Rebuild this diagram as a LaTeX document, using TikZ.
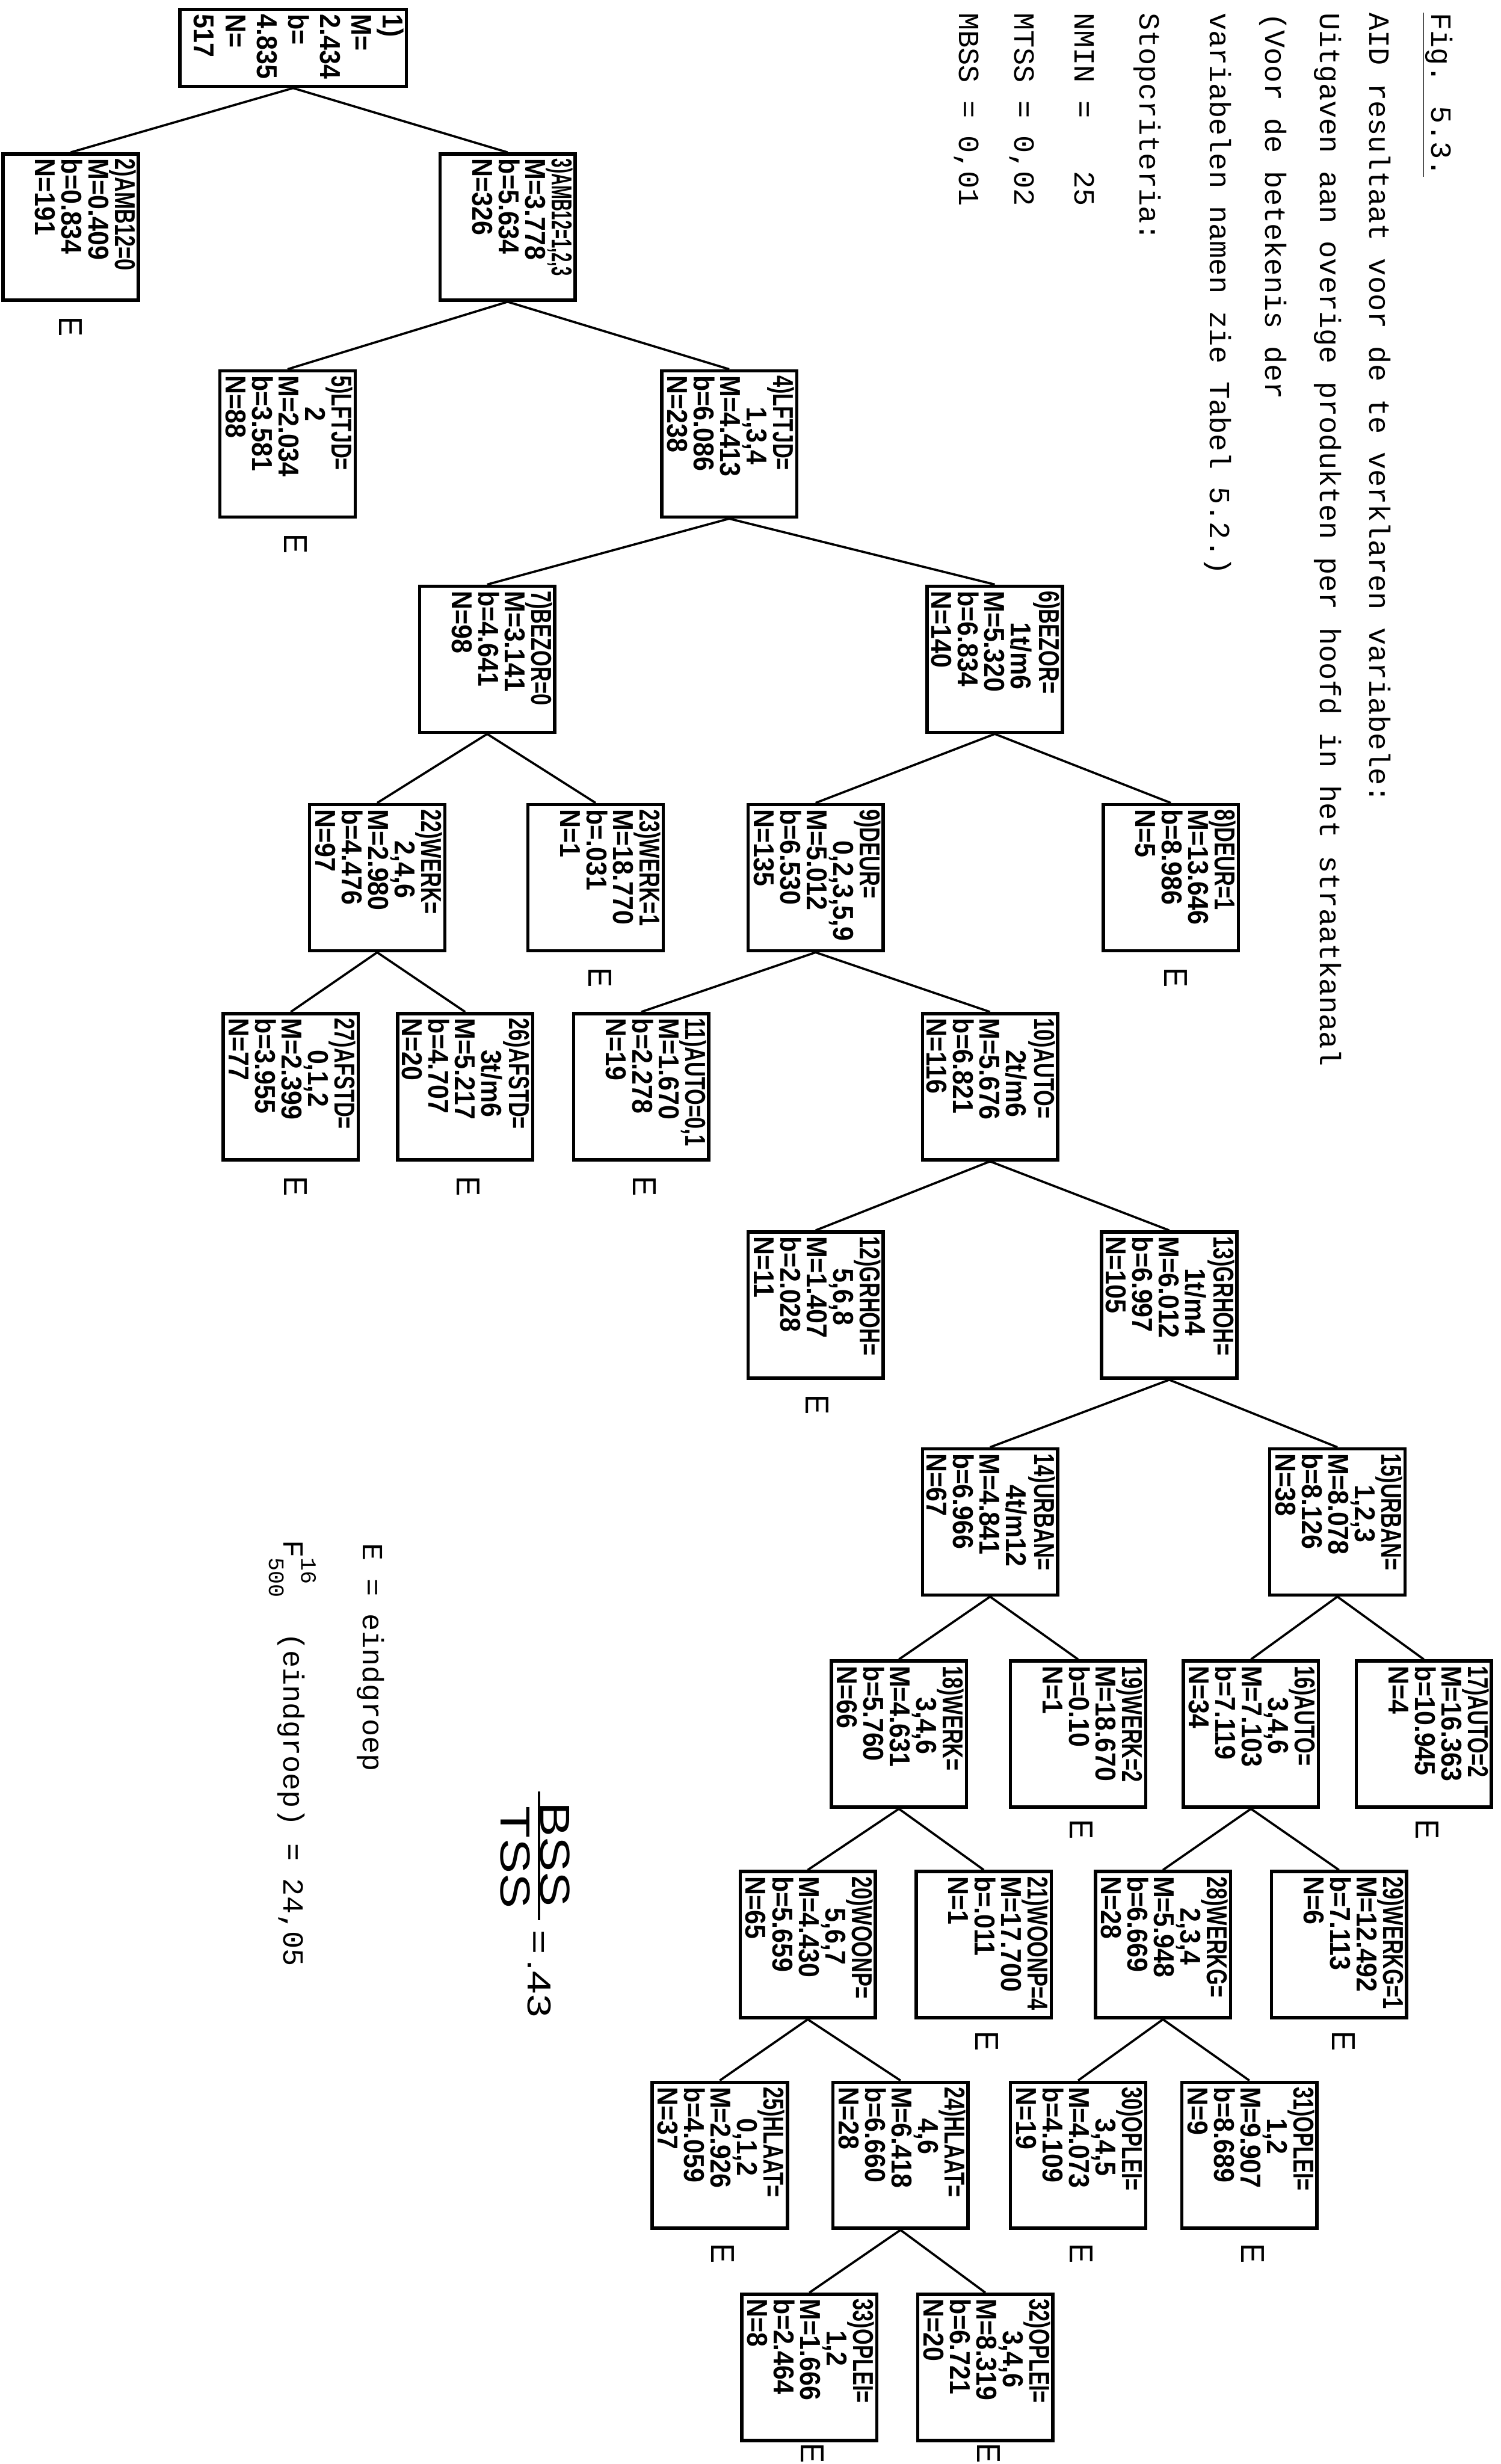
\documentclass[tikz,border=0pt]{standalone}
\usepackage{fontspec}
\usepackage{graphicx}
\setmainfont{Liberation Serif}
\newfontfamily\tw{Liberation Mono}
\newfontfamily\hw{Liberation Sans}[FakeStretch=0.9]
\newfontfamily\hwh{Liberation Sans}[FakeStretch=0.72]
\newfontfamily\hwb{Liberation Sans}[FakeStretch=1.25]
\newcommand{\BX}[1]{\parbox[c][4.14cm][t]{4.35cm}{\raggedright #1}}
\newcommand{\hd}[1]{{\hwh\bfseries #1}}
\newcommand{\vl}[1]{\hspace*{1.0cm}#1}
\begin{document}
\begin{tikzpicture}[x=0.05cm,y=-0.05cm,
  tline/.style={rotate=-90,anchor=west,inner sep=0pt,font=\tw\fontsize{26.5}{30}\selectfont},
  bx/.style={draw,line width=3pt,rotate=-90,inner xsep=0.15cm,inner ysep=0.08cm,
             font=\hw\bfseries\fontsize{26}{24}\selectfont},
  eg/.style={rotate=-90,inner sep=0pt,font=\hw\fontsize{30}{30}\selectfont},
  conn/.style={line width=2pt}]
\useasboundingbox[fill=white] (0,0) rectangle (955,1568);

% ---------- title block ----------
\node[tline] (t1) at (915,8) {\underline{Fig. 5.3.}};
\node[tline] (t2) at (878,8) {AID resultaat voor de te verklaren variabele:};
\node[tline] (t3) at (845,8) {Uitgaven aan overige produkten per hoofd in het straatkanaal};
\node[tline] (t4) at (810,8) {(Voor de betekenis der};
\node[tline] (t5) at (775,8) {variabelen namen zie Tabel 5.2.)};
\node[tline] (t6) at (730,8) {Stopcriteria:};
\node[tline] (t7) at (690,8) {NMIN =\ \ \ 25};
\node[tline] (t8) at (650,8) {MTSS = 0,02};
\node[tline] (t9) at (615,8) {MBSS = 0,01};

% ---------- notes ----------
\node[tline] (n_e) at (236,982) {E = eindgroep};
\node[tline] (n_f) at (186,980) {F\rlap{\raisebox{0.6em}{\fontsize{20}{20}\selectfont 16}}\raisebox{-0.5em}{\fontsize{20}{20}\selectfont 500}\ \ (eindgroep) = 24,05};
\node[rotate=-90,inner sep=0pt,font=\hwb\fontsize{38}{40}\selectfont] (bss) at (353,1180) {BSS};
\node[rotate=-90,inner sep=0pt,font=\hwb\fontsize{38}{40}\selectfont] (tss) at (328,1182) {TSS};
\coordinate (bar1) at (343,1140);
\coordinate (bar2) at (343,1222);
\draw[line width=1.8pt] (bar1) -- (bar2);
\node[rotate=-90,anchor=west,inner sep=0pt,font=\hwb\fontsize{30}{30}\selectfont] (q43) at (343,1228) {=\,.43};

% ---------- tree boxes ----------
\node[bx] (n1) at (186.5,30.5) {\parbox[c][7.05cm][t]{2.15cm}{\raggedright\fontsize{26}{28.5}\selectfont 1)\\M=\\2.434\\b=\\4.835\\N=\\517}};

\node[bx] (n2) at (45,144.5) {\BX{\hd{2)AMB12=0}\\M=0.409\\b=0.834\\N=191}};
\node[bx] (n3) at (323,144.5) {\BX{\hd{\scalebox{0.8}[1]{3)AMB12=1,2,3}}\\M=3.778\\b=5.634\\N=326}};

\node[bx] (n5) at (183,282.5) {\BX{\hd{5)LFTJD=}\\\vl{2}\\M=2.034\\b=3.581\\N=88}};
\node[bx] (n4) at (464,282.5) {\BX{\hd{4)LFTJD=}\\\vl{1,3,4}\\M=4.413\\b=6.086\\N=238}};

\node[bx] (n7) at (310,419.5) {\BX{\hd{7)BEZOR=0}\\M=3.141\\b=4.641\\N=98}};
\node[bx] (n6) at (633,419.5) {\BX{\hd{6)BEZOR=}\\\vl{1t/m6}\\M=5.320\\b=6.834\\N=140}};

\node[bx] (n22) at (240,558.5) {\BX{\hd{22)WERK=}\\\vl{2,4,6}\\M=2.980\\b=4.476\\N=97}};
\node[bx] (n23) at (379,558.5) {\BX{\hd{23)WERK=1}\\M=18.770\\b=.031\\N=1}};
\node[bx] (n9) at (519,558.5) {\BX{\hd{9)DEUR=}\\\vl{0,2,3,5,9}\\M=5.012\\b=6.530\\N=135}};
\node[bx] (n8) at (745,558.5) {\BX{\hd{8)DEUR=1}\\M=13.646\\b=8.986\\N=5}};

\node[bx] (n27) at (185,691.5) {\BX{\hd{27)AFSTD=}\\\vl{0,1,2}\\M=2.399\\b=3.955\\N=77}};
\node[bx] (n26) at (296,691.5) {\BX{\hd{26)AFSTD=}\\\vl{3t/m6}\\M=5.217\\b=4.707\\N=20}};
\node[bx] (n11) at (408,691.5) {\BX{\hd{11)AUTO=0,1}\\M=1.670\\b=2.278\\N=19}};
\node[bx] (n10) at (630,691.5) {\BX{\hd{10)AUTO=}\\\vl{2t/m6}\\M=5.676\\b=6.821\\N=116}};

\node[bx] (n12) at (519,830.5) {\BX{\hd{12)GRHOH=}\\\vl{5,6,8}\\M=1.407\\b=2.028\\N=11}};
\node[bx] (n13) at (744,830.5) {\BX{\hd{13)GRHOH=}\\\vl{1t/m4}\\M=6.012\\b=6.997\\N=105}};

\node[bx] (n14) at (630,968.5) {\BX{\hd{14)URBAN=}\\\vl{4t/m12}\\M=4.841\\b=6.966\\N=67}};
\node[bx] (n15) at (851,968.5) {\BX{\hd{15)URBAN=}\\\vl{1,2,3}\\M=8.078\\b=8.126\\N=38}};

\node[bx] (n18) at (572,1103.5) {\BX{\hd{18)WERK=}\\\vl{3,4,6}\\M=4.631\\b=5.760\\N=66}};
\node[bx] (n19) at (686,1103.5) {\BX{\hd{19)WERK=2}\\M=18.670\\b=0.10\\N=1}};
\node[bx] (n16) at (796,1103.5) {\BX{\hd{16)AUTO=}\\\vl{3,4,6}\\M=7.103\\b=7.119\\N=34}};
\node[bx] (n17) at (906,1103.5) {\BX{\hd{17)AUTO=2}\\M=16.363\\b=10.945\\N=4}};

\node[bx] (n20) at (514,1237.5) {\BX{\hd{20)WOONP=}\\\vl{5,6,7}\\M=4.430\\b=5.659\\N=65}};
\node[bx] (n21) at (626,1237.5) {\BX{\hd{21)WOONP=4}\\M=17.700\\b=.011\\N=1}};
\node[bx] (n28) at (740,1237.5) {\BX{\hd{28)WERKG=}\\\vl{2,3,4}\\M=5.948\\b=6.669\\N=28}};
\node[bx] (n29) at (852,1237.5) {\BX{\hd{29)WERKG=1}\\M=12.492\\b=7.113\\N=6}};

\node[bx] (n25) at (458,1371.5) {\BX{\hd{25)HLAAT=}\\\vl{0,1,2}\\M=2.926\\b=4.059\\N=37}};
\node[bx] (n24) at (573,1371.5) {\BX{\hd{24)HLAAT=}\\\vl{4,6}\\M=6.418\\b=6.660\\N=28}};
\node[bx] (n30) at (686,1371.5) {\BX{\hd{30)OPLEI=}\\\vl{3,4,5}\\M=4.073\\b=4.109\\N=19}};
\node[bx] (n31) at (795,1371.5) {\BX{\hd{31)OPLEI=}\\\vl{1,2}\\M=9.907\\b=8.689\\N=9}};

\node[bx] (n33) at (515,1506.5) {\BX{\hd{33)OPLEI=}\\\vl{1,2}\\M=1.666\\b=2.464\\N=8}};
\node[bx] (n32) at (627,1506.5) {\BX{\hd{32)OPLEI=}\\\vl{3,4,6}\\M=8.319\\b=6.721\\N=20}};

% ---------- connectors ----------
\foreach \p/\c in {n1/n2,n1/n3,n3/n5,n3/n4,n4/n7,n4/n6,n7/n22,n7/n23,n6/n9,n6/n8,
  n22/n27,n22/n26,n9/n11,n9/n10,n10/n12,n10/n13,n13/n14,n13/n15,n14/n18,n14/n19,
  n15/n16,n15/n17,n18/n20,n18/n21,n16/n28,n16/n29,n20/n25,n20/n24,n28/n30,n28/n31,
  n24/n33,n24/n32}
  \draw[conn] (\p.east) -- (\c.west);

% ---------- end-group marks ----------
\node[eg] (e2) at (45,208) {E};
\node[eg] (e5) at (188,346) {E};
\node[eg] (e8) at (748,622) {E};
\node[eg] (e23) at (382,622) {E};
\node[eg] (e11) at (410,755) {E};
\node[eg] (e26) at (298,755) {E};
\node[eg] (e27) at (188,755) {E};
\node[eg] (e12) at (520,894) {E};
\node[eg] (e17) at (908,1164) {E};
\node[eg] (e19) at (688,1164) {E};
\node[eg] (e29) at (855,1299) {E};
\node[eg] (e21) at (628,1299) {E};
\node[eg] (e31) at (797,1434) {E};
\node[eg] (e30) at (688,1434) {E};
\node[eg] (e25) at (460,1434) {E};
\node[eg] (e32) at (629,1561) {E};
\node[eg] (e33) at (517,1561) {E};
\end{tikzpicture}
\end{document}
